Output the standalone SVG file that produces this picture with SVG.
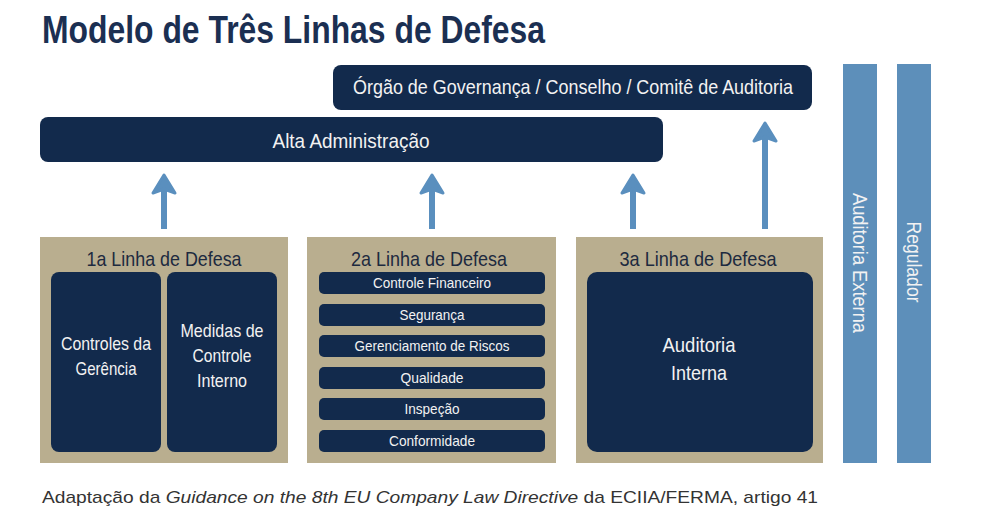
<svg xmlns="http://www.w3.org/2000/svg" width="991" height="520" viewBox="0 0 991 520">
<defs>
<style>
.navy{fill:#122a4c}
.tan{fill:#b9ae8f}
.side{fill:#5d8fba}
.t{font-family:"Liberation Sans",Arial,sans-serif;fill:#f2f2f2;text-anchor:middle}
.h{font-family:"Liberation Sans",Arial,sans-serif;fill:#1d2a3f;text-anchor:middle;font-size:21px}
.s{font-size:15px}
.conn{stroke:#5a8fbe;stroke-width:6;fill:none}
.head{fill:#5a8fbe}
</style>
</defs>
<rect width="991" height="520" fill="#ffffff"/>
<text x="42" y="43" font-family="Liberation Sans, Arial, sans-serif" font-weight="bold" font-size="38" fill="#1b2f52" textLength="503" lengthAdjust="spacingAndGlyphs">Modelo de Três Linhas de Defesa</text>

<g id="governanca">
<rect class="navy" x="333" y="65" width="479" height="45" rx="8"/>
<text class="t" x="573" y="94" font-size="21" textLength="440" lengthAdjust="spacingAndGlyphs">Órgão de Governança / Conselho / Comitê de Auditoria</text>
</g>
<g id="alta-administracao">
<rect class="navy" x="40" y="117" width="623" height="45" rx="8"/>
<text class="t" x="351" y="148" font-size="21" textLength="157" lengthAdjust="spacingAndGlyphs">Alta Administração</text>
</g>

<g id="connectors">
<line class="conn" x1="164" y1="229" x2="164" y2="190"/>
<path class="head" d="M164,175 L175,193 L164,189 L153,193 Z" stroke="#5a8fbe" stroke-width="3" stroke-linejoin="round"/>
<line class="conn" x1="432" y1="229" x2="432" y2="190"/>
<path class="head" d="M432,175 L443,193 L432,189 L421,193 Z" stroke="#5a8fbe" stroke-width="3" stroke-linejoin="round"/>
<line class="conn" x1="633" y1="229" x2="633" y2="190"/>
<path class="head" d="M633,175 L644,193 L633,189 L622,193 Z" stroke="#5a8fbe" stroke-width="3" stroke-linejoin="round"/>
<line class="conn" x1="765" y1="229" x2="765" y2="138"/>
<path class="head" d="M765,123 L776,141 L765,137 L754,141 Z" stroke="#5a8fbe" stroke-width="3" stroke-linejoin="round"/>
</g>

<g id="linha1">
<rect class="tan" x="40" y="237" width="248" height="226"/>
<text class="h" x="164" y="266" textLength="155" lengthAdjust="spacingAndGlyphs">1a Linha de Defesa</text>
<rect class="navy" x="51" y="272" width="110" height="180" rx="8"/>
<rect class="navy" x="167" y="272" width="110" height="180" rx="8"/>
<text class="t" x="106" y="350" font-size="19" textLength="90" lengthAdjust="spacingAndGlyphs">Controles da</text>
<text class="t" x="106" y="375" font-size="19" textLength="61" lengthAdjust="spacingAndGlyphs">Gerência</text>
<text class="t" x="222" y="337" font-size="19" textLength="83" lengthAdjust="spacingAndGlyphs">Medidas de</text>
<text class="t" x="222" y="362" font-size="19" textLength="59" lengthAdjust="spacingAndGlyphs">Controle</text>
<text class="t" x="222" y="387" font-size="19" textLength="50" lengthAdjust="spacingAndGlyphs">Interno</text>
</g>

<g id="linha2">
<rect class="tan" x="307" y="237" width="249" height="226"/>
<text class="h" x="429" y="266" textLength="156" lengthAdjust="spacingAndGlyphs">2a Linha de Defesa</text>
<rect class="navy" x="319" y="272" width="226" height="22" rx="5"/>
<text class="t s" x="432" y="288" textLength="118" lengthAdjust="spacingAndGlyphs">Controle Financeiro</text>
<rect class="navy" x="319" y="304" width="226" height="22" rx="5"/>
<text class="t s" x="432" y="320" textLength="65" lengthAdjust="spacingAndGlyphs">Segurança</text>
<rect class="navy" x="319" y="335" width="226" height="22" rx="5"/>
<text class="t s" x="432" y="351" textLength="155" lengthAdjust="spacingAndGlyphs">Gerenciamento de Riscos</text>
<rect class="navy" x="319" y="367" width="226" height="22" rx="5"/>
<text class="t s" x="432" y="383" textLength="63" lengthAdjust="spacingAndGlyphs">Qualidade</text>
<rect class="navy" x="319" y="398" width="226" height="22" rx="5"/>
<text class="t s" x="432" y="414" textLength="55" lengthAdjust="spacingAndGlyphs">Inspeção</text>
<rect class="navy" x="319" y="430" width="226" height="22" rx="5"/>
<text class="t s" x="432" y="446" textLength="86" lengthAdjust="spacingAndGlyphs">Conformidade</text>
</g>

<g id="linha3">
<rect class="tan" x="576" y="237" width="247" height="226"/>
<text class="h" x="698" y="266" textLength="157" lengthAdjust="spacingAndGlyphs">3a Linha de Defesa</text>
<rect class="navy" x="587" y="272" width="226" height="180" rx="10"/>
<text class="t" x="699" y="352" font-size="21" textLength="73" lengthAdjust="spacingAndGlyphs">Auditoria</text>
<text class="t" x="699" y="380" font-size="21" textLength="56" lengthAdjust="spacingAndGlyphs">Interna</text>
</g>

<g id="auditoria-externa">
<rect class="side" x="843" y="64" width="34" height="399"/>
<text class="t" transform="translate(853,263) rotate(90)" font-size="20" textLength="140" lengthAdjust="spacingAndGlyphs">Auditoria Externa</text>
</g>
<g id="regulador">
<rect class="side" x="897" y="64" width="34" height="399"/>
<text class="t" transform="translate(907,262) rotate(90)" font-size="20" textLength="81" lengthAdjust="spacingAndGlyphs">Regulador</text>
</g>

<text x="42" y="503" font-family="Liberation Sans, Arial, sans-serif" font-size="17" fill="#333333" textLength="776" lengthAdjust="spacingAndGlyphs">Adaptação da <tspan font-style="italic">Guidance on the 8th EU Company Law Directive</tspan> da ECIIA/FERMA, artigo 41</text>
</svg>
